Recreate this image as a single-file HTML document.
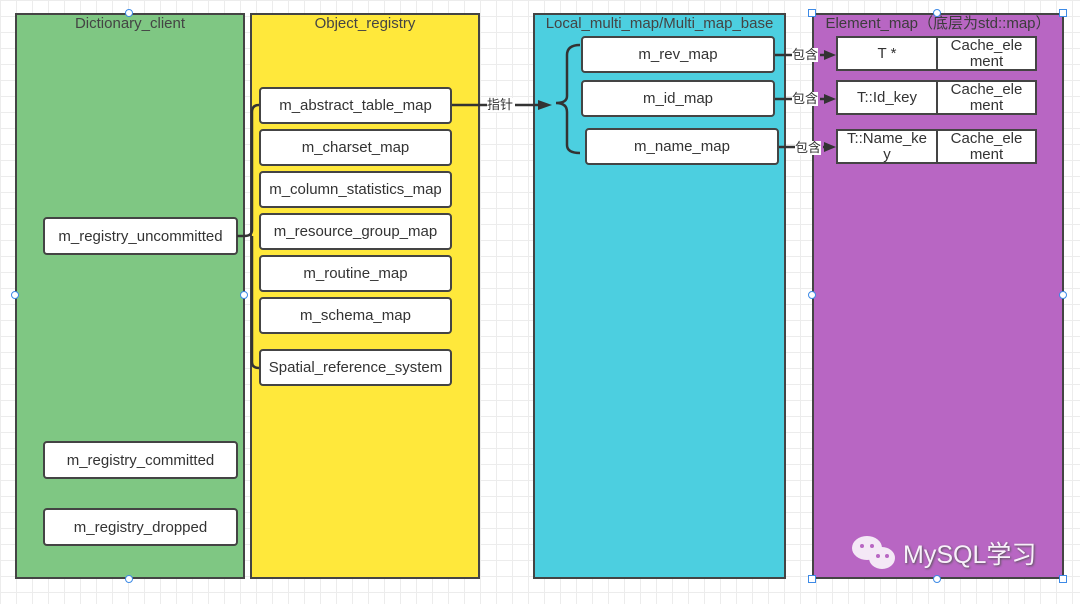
<!DOCTYPE html>
<html><head><meta charset="utf-8"><style>
*{margin:0;padding:0;box-sizing:border-box}
body{width:1080px;height:604px;overflow:hidden;position:relative;background-color:#fff;
background-image:linear-gradient(#ececec 1px,transparent 1px),linear-gradient(90deg,#ececec 1px,transparent 1px);
background-size:16px 16px;font-family:"Liberation Sans","Noto Sans CJK SC",sans-serif;color:#333}
.col{position:absolute;top:13px;height:566px;border:2px solid #444}
.t{position:absolute;top:0;left:0;right:0;text-align:center;font-size:15px;color:#444;line-height:18px}
.b{position:absolute;background:#fff;border:2px solid #444;border-radius:4px;display:flex;align-items:center;justify-content:center;font-size:15px;color:#333;text-align:center;white-space:nowrap}
.c{position:absolute;background:#fff;border:2px solid #444;display:flex;align-items:center;justify-content:center;font-size:15px;line-height:16px;text-align:center;color:#333}
.lbl{position:absolute;font-size:13px;background:#fff;color:#333;line-height:14px}
.h{position:absolute;width:8px;height:8px;border:1px solid #3d8ae6;background:#fff;border-radius:50%}
.sq{border-radius:0}
</style></head><body>
<div class="col" style="left:15px;width:230px;background:#7fc783"><div class="t">Dictionary_client</div></div>
<div class="col" style="left:250px;width:230px;background:#ffe83b"><div class="t">Object_registry</div></div>
<div class="col" style="left:533px;width:253px;background:#4ccfe0"><div class="t">Local_multi_map/Multi_map_base</div></div>
<div class="col" style="left:812px;width:252px;background:#b866c3"><div class="t" style="color:#3c3c3c">Element_map（底层为std::map）</div></div>

<div class="b" style="left:43px;top:217px;width:195px;height:38px">m_registry_uncommitted</div>
<div class="b" style="left:43px;top:441px;width:195px;height:38px">m_registry_committed</div>
<div class="b" style="left:43px;top:508px;width:195px;height:38px">m_registry_dropped</div>

<div class="b" style="left:259px;top:87px;width:193px;height:37px">m_abstract_table_map</div>
<div class="b" style="left:259px;top:129px;width:193px;height:37px">m_charset_map</div>
<div class="b" style="left:259px;top:171px;width:193px;height:37px">m_column_statistics_map</div>
<div class="b" style="left:259px;top:213px;width:193px;height:37px">m_resource_group_map</div>
<div class="b" style="left:259px;top:255px;width:193px;height:37px">m_routine_map</div>
<div class="b" style="left:259px;top:297px;width:193px;height:37px">m_schema_map</div>
<div class="b" style="left:259px;top:349px;width:193px;height:37px">Spatial_reference_system</div>

<div class="b" style="left:581px;top:36px;width:194px;height:37px">m_rev_map</div>
<div class="b" style="left:581px;top:80px;width:194px;height:37px">m_id_map</div>
<div class="b" style="left:585px;top:128px;width:194px;height:37px">m_name_map</div>

<div class="c" style="left:836px;top:36px;width:102px;height:35px">T *</div>
<div class="c" style="left:936px;top:36px;width:101px;height:35px">Cache_ele<br>ment</div>
<div class="c" style="left:836px;top:80px;width:102px;height:35px">T::Id_key</div>
<div class="c" style="left:936px;top:80px;width:101px;height:35px">Cache_ele<br>ment</div>
<div class="c" style="left:836px;top:129px;width:102px;height:35px">T::Name_ke<br>y</div>
<div class="c" style="left:936px;top:129px;width:101px;height:35px">Cache_ele<br>ment</div>

<svg style="position:absolute;left:0;top:0" width="1080" height="604">
<g fill="none" stroke="#333" stroke-width="2.5">
<path d="M237 236 H244 M244 236 Q252 236 252 230 V112 Q252 105 259 105 M252 236 V362 Q252 368 259 368"/>
<path d="M452 105 H487 M515 105 H540"/>
<path d="M580 45 Q567 45 567 55 V96 Q567 103 556 103 Q567 103 567 112 V145 Q567 153 580 153"/>
<path d="M775 55 H792 M775 99 H792 M779 147 H795"/>
<path d="M820 55 H826 M820 99 H826 M823 147 H826"/>
</g>
<g fill="#333"><path d="M552 105 L538 100 L538 110Z"/>
<path d="M836 55 L824 50 L824 60Z"/><path d="M836 99 L824 94 L824 104Z"/><path d="M836 147 L824 142 L824 152Z"/></g>
<g fill="#f4e8f6"><ellipse cx="867" cy="548" rx="15" ry="12"/><ellipse cx="882" cy="558" rx="13" ry="11"/></g>
<g fill="#b866c3"><circle cx="862" cy="546" r="2"/><circle cx="872" cy="546" r="2"/><circle cx="878" cy="556" r="2"/><circle cx="887" cy="556" r="2"/></g>
</svg>
<div class="lbl" style="left:487px;top:98px;">指针</div>
<div class="lbl" style="left:792px;top:48px">包含</div>
<div class="lbl" style="left:792px;top:92px">包含</div>
<div class="lbl" style="left:795px;top:141px">包含</div>
<div style="position:absolute;left:903px;top:535px;font-size:25px;color:#f8f0fa;text-shadow:1px 1px 2px #555">MySQL学习</div>
<div class="h" style="left:125px;top:9px"></div>
<div class="h" style="left:125px;top:575px"></div>
<div class="h" style="left:11px;top:291px"></div>
<div class="h" style="left:240px;top:291px"></div>
<div class="h sq" style="left:808px;top:9px"></div>
<div class="h" style="left:933px;top:9px"></div>
<div class="h sq" style="left:1059px;top:9px"></div>
<div class="h" style="left:808px;top:291px"></div>
<div class="h" style="left:1059px;top:291px"></div>
<div class="h sq" style="left:808px;top:575px"></div>
<div class="h" style="left:933px;top:575px"></div>
<div class="h sq" style="left:1059px;top:575px"></div>
</body></html>
